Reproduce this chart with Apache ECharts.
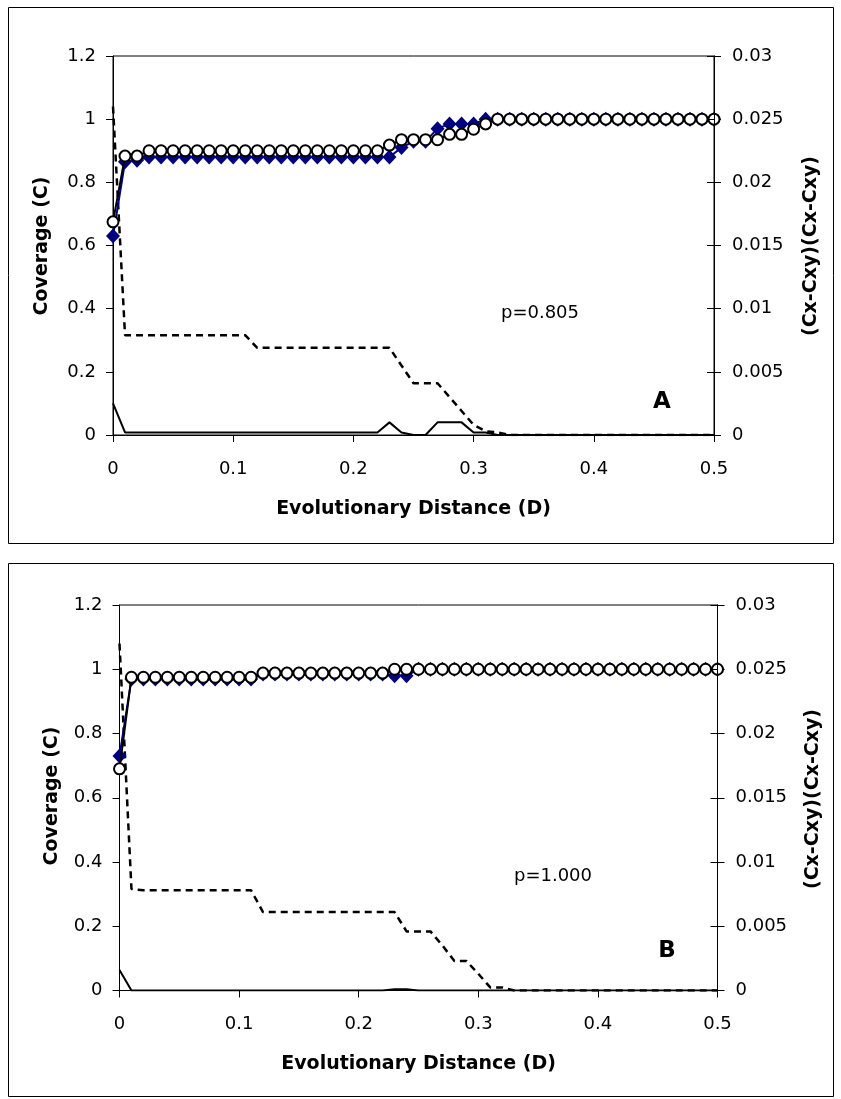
<!DOCTYPE html>
<html>
<head>
<meta charset="utf-8">
<script src="https://cdn.jsdelivr.net/npm/echarts@6/dist/echarts.min.js"></script>
<style>
html,body{margin:0;padding:0;background:#fff;}
#chart{width:841px;height:1099px;}
</style>
</head>
<body>
<div id="chart"></div>
<script>
// Evolutionary distance (D)
var distance = [0,0.01,0.02,0.03,0.04,0.05,0.06,0.07,0.08,0.09,0.1,0.11,0.12,0.13,0.14,0.15,0.16,0.17,0.18,0.19,0.2,0.21,0.22,0.23,0.24,0.25,0.26,0.27,0.28,0.29,0.3,0.31,0.32,0.33,0.34,0.35,0.36,0.37,0.38,0.39,0.4,0.41,0.42,0.43,0.44,0.45,0.46,0.47,0.48,0.49,0.5];

// Panel A
var coverageA_diamond = [0.63,0.865,0.87,0.88,0.88,0.88,0.88,0.88,0.88,0.88,0.88,0.88,0.88,0.88,0.88,0.88,0.88,0.88,0.88,0.88,0.88,0.88,0.88,0.88,0.91,0.93,0.93,0.97,0.985,0.985,0.985,1,1,1,1,1,1,1,1,1,1,1,1,1,1,1,1,1,1,1,1];
var coverageA_circle = [0.675,0.883,0.883,0.9,0.9,0.9,0.9,0.9,0.9,0.9,0.9,0.9,0.9,0.9,0.9,0.9,0.9,0.9,0.9,0.9,0.9,0.9,0.9,0.918,0.935,0.935,0.935,0.935,0.952,0.952,0.968,0.985,1,1,1,1,1,1,1,1,1,1,1,1,1,1,1,1,1,1,1];
var diffA_dashed = [0.026,0.0079,0.0079,0.0079,0.0079,0.0079,0.0079,0.0079,0.0079,0.0079,0.0079,0.0079,0.0069,0.0069,0.0069,0.0069,0.0069,0.0069,0.0069,0.0069,0.0069,0.0069,0.0069,0.0069,0.0055,0.0041,0.0041,0.0041,0.003,0.0019,0.0008,0.0003,0.0002,0,0,0,0,0,0,0,0,0,0,0,0,0,0,0,0,0,0];
var diffA_solid = [0.0025,0.0002,0.0002,0.0002,0.0002,0.0002,0.0002,0.0002,0.0002,0.0002,0.0002,0.0002,0.0002,0.0002,0.0002,0.0002,0.0002,0.0002,0.0002,0.0002,0.0002,0.0002,0.0002,0.001,0.0002,0,0,0.001,0.001,0.001,0.0002,0.0002,0,0,0,0,0,0,0,0,0,0,0,0,0,0,0,0,0,0,0];

// Panel B
var coverageB_diamond = [0.73,0.97,0.97,0.97,0.97,0.97,0.97,0.97,0.97,0.97,0.97,0.97,0.985,0.985,0.985,0.985,0.985,0.985,0.985,0.985,0.985,0.985,0.985,0.98,0.98,1,1,1,1,1,1,1,1,1,1,1,1,1,1,1,1,1,1,1,1,1,1,1,1,1,1];
var coverageB_circle = [0.69,0.975,0.975,0.975,0.975,0.975,0.975,0.975,0.975,0.975,0.975,0.975,0.988,0.988,0.988,0.988,0.988,0.988,0.988,0.988,0.988,0.988,0.988,1,1,1,1,1,1,1,1,1,1,1,1,1,1,1,1,1,1,1,1,1,1,1,1,1,1,1,1];
var diffB_dashed = [0.027,0.0079,0.0078,0.0078,0.0078,0.0078,0.0078,0.0078,0.0078,0.0078,0.0078,0.0078,0.0061,0.0061,0.0061,0.0061,0.0061,0.0061,0.0061,0.0061,0.0061,0.0061,0.0061,0.0061,0.0046,0.0046,0.0046,0.0035,0.0023,0.0023,0.0013,0.00024,0.00024,0,0,0,0,0,0,0,0,0,0,0,0,0,0,0,0,0,0];
var diffB_solid = [0.0016,0,0,0,0,0,0,0,0,0,0,0,0,0,0,0,0,0,0,0,0,0,0,0.0001,0.0001,0,0,0,0,0,0,0,0,0,0,0,0,0,0,0,0,0,0,0,0,0,0,0,0,0,0];

// Tick labels and texts
var xTickLabels = ['0','0.1','0.2','0.3','0.4','0.5'];
var leftTickLabels = ['0','0.2','0.4','0.6','0.8','1','1.2'];
var rightTickLabels = ['0','0.005','0.01','0.015','0.02','0.025','0.03'];
var xTitle = 'Evolutionary Distance (D)';
var leftTitle = 'Coverage (C)';
var rightTitle = '(Cx-Cxy)(Cx-Cxy)';
var pLabels = ['p=0.805','p=1.000'];
var panelLetters = ['A','B'];

function pairs(ys){ return ys.map(function(y,i){ return [distance[i], y]; }); }

var tickFont = 'DejaVu Sans';
var grids = [
  {left:113, top:56, width:601, height:379},
  {left:119.5, top:605, width:598, height:385.5}
];

var xAxes = [], yAxes = [], series = [];
var panels = [
  {dia:coverageA_diamond, cir:coverageA_circle, dash:diffA_dashed, sol:diffA_solid},
  {dia:coverageB_diamond, cir:coverageB_circle, dash:diffB_dashed, sol:diffB_solid}
];
panels.forEach(function(p, g){
  xAxes.push({
    type:'value', gridIndex:g, min:0, max:0.5, interval:0.1,
    axisLine:{show:true, onZero:false, lineStyle:{color:'#000', width:1}},
    axisTick:{show:true, inside:false, length:7, lineStyle:{color:'#000'}},
    axisLabel:{margin:25, color:'#000', fontSize:18, fontFamily:tickFont,
      formatter:function(v){ return xTickLabels[Math.round(v/0.1)]; }},
    splitLine:{show:false}
  });
  var base = yAxes.length;
  yAxes.push({
    type:'value', gridIndex:g, position:'left', min:0, max:1.2, interval:0.2,
    axisLine:{show:true, lineStyle:{color:'#000', width:1}},
    axisTick:{show:true, inside:false, length:7, lineStyle:{color:'#000'}},
    axisLabel:{margin:17, color:'#000', fontSize:18, fontFamily:tickFont,
      formatter:function(v){ return leftTickLabels[Math.round(v/0.2)]; }},
    splitLine:{show:false}
  });
  yAxes.push({
    type:'value', gridIndex:g, position:'right', min:0, max:0.03, interval:0.005,
    axisLine:{show:true, lineStyle:{color:'#000', width:1}},
    axisTick:{show:true, inside:false, length:7, lineStyle:{color:'#000'}},
    axisLabel:{margin:18, color:'#000', fontSize:18, fontFamily:tickFont,
      formatter:function(v){ return rightTickLabels[Math.round(v/0.005)]; }},
    splitLine:{show:false}
  });
  yAxes.push({
    type:'value', gridIndex:g, position:'right', min:0, max:0.03, interval:0.005, z:10,
    axisLine:{show:true, lineStyle:{color:'#000', width:1}},
    axisTick:{show:true, inside:true, length:7, lineStyle:{color:'#000'}},
    axisLabel:{show:false},
    splitLine:{show:false}
  });
  series.push({
    type:'line', xAxisIndex:g, yAxisIndex:base+1, data:pairs(p.dash), symbol:'none',
    lineStyle:{color:'#000', width:2.5, type:[7,5]}, z:2
  });
  series.push({
    type:'line', xAxisIndex:g, yAxisIndex:base+1, data:pairs(p.sol), symbol:'none',
    lineStyle:{color:'#000', width:2}, z:2
  });
  series.push({
    type:'line', xAxisIndex:g, yAxisIndex:base, data:pairs(p.dia), symbol:'diamond', symbolSize:[14,15],
    itemStyle:{color:'#000080'}, lineStyle:{color:'#000080', width:2}, z:3
  });
  series.push({
    type:'line', xAxisIndex:g, yAxisIndex:base, data:pairs(p.cir), symbol:'circle', symbolSize:11,
    itemStyle:{color:'#fff', borderColor:'#000', borderWidth:2}, lineStyle:{color:'#000', width:2}, z:4
  });
});

function txt(x, y, text, font, rot){
  return {type:'text', x:x, y:y, rotation:rot||0, silent:true, z:20,
    style:{text:text, x:0, y:0, font:font, fill:'#000',
      align:'center', verticalAlign:'middle', textAlign:'center', textVerticalAlign:'middle'}};
}
var boldFont = 'bold 19px "DejaVu Sans"';
var graphic = [
  {type:'rect', silent:true, shape:{x:8.5, y:7.5, width:825, height:536}, style:{fill:'rgba(0,0,0,0)', stroke:'#000', lineWidth:1}},
  {type:'rect', silent:true, shape:{x:8.5, y:563.5, width:825, height:533}, style:{fill:'rgba(0,0,0,0)', stroke:'#000', lineWidth:1}},
  txt(413.5, 509, xTitle, boldFont),
  txt(418.6, 1064, xTitle, boldFont),
  txt(42, 246, leftTitle, boldFont, Math.PI/2),
  txt(52, 796, leftTitle, boldFont, Math.PI/2),
  txt(811, 246, rightTitle, boldFont, Math.PI/2),
  txt(813, 799, rightTitle, boldFont, Math.PI/2),
  txt(540, 313, pLabels[0], '18px "DejaVu Sans"'),
  txt(553, 876, pLabels[1], '18px "DejaVu Sans"'),
  txt(662, 402, panelLetters[0], 'bold 23px "DejaVu Sans"'),
  txt(667, 951, panelLetters[1], 'bold 23px "DejaVu Sans"')
];

var chart = echarts.init(document.getElementById('chart'), null, {renderer:'canvas'});
chart.setOption({
  animation:false,
  backgroundColor:'#fff',
  grid: grids.map(function(gr){ return Object.assign({show:true, borderColor:'#000', borderWidth:1, backgroundColor:'rgba(0,0,0,0)'}, gr); }),
  xAxis:xAxes,
  yAxis:yAxes,
  series:series,
  graphic:graphic
});
</script>
</body>
</html>
